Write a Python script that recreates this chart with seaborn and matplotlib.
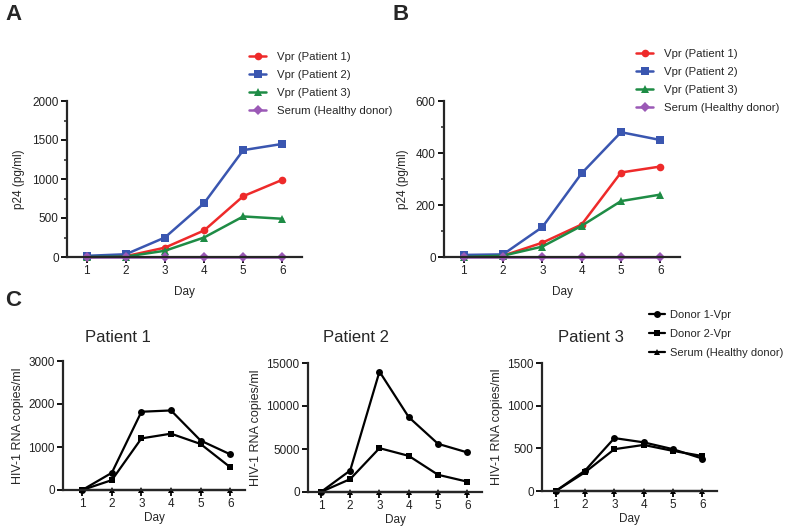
import numpy as np
import matplotlib
matplotlib.use("Agg")
import matplotlib.pyplot as plt
import seaborn as sns

days = [1, 2, 3, 4, 5, 6]

# Panel A: p24 (pg/ml)
a_patient1 = [0, 10, 120, 340, 780, 990]
a_patient2 = [15, 35, 250, 690, 1370, 1450]
a_patient3 = [0, 5, 80, 250, 520, 490]
a_serum = [0, 0, 0, 0, 0, 0]

# Panel B: p24 (pg/ml)
b_patient1 = [3, 5, 55, 125, 325, 348]
b_patient2 = [8, 10, 115, 322, 480, 450]
b_patient3 = [0, 5, 40, 120, 215, 240]
b_serum = [0, 0, 0, 0, 0, 0]

# Panel C: HIV-1 RNA copies/ml
c_donor1 = {
    "Patient 1": [0, 400, 1820, 1850, 1150, 830],
    "Patient 2": [0, 2500, 14000, 8700, 5600, 4600],
    "Patient 3": [0, 240, 620, 570, 490, 380],
}
c_donor2 = {
    "Patient 1": [0, 230, 1200, 1310, 1070, 530],
    "Patient 2": [0, 1500, 5100, 4200, 2000, 1200],
    "Patient 3": [0, 220, 490, 540, 470, 410],
}
c_serum = [0, 0, 0, 0, 0, 0]

ab_labels = ["Vpr (Patient 1)", "Vpr (Patient 2)", "Vpr (Patient 3)", "Serum (Healthy donor)"]
ab_colors = ["#EE2A2A", "#3A56B0", "#1E8C45", "#9B59B6"]
ab_markers = ["o", "s", "^", "D"]
c_labels = ["Donor 1-Vpr", "Donor 2-Vpr", "Serum (Healthy donor)"]

sns.set_style("ticks")
plt.rcParams["font.family"] = ["Liberation Sans", "DejaVu Sans"]
plt.rcParams["axes.linewidth"] = 1.6
plt.rcParams["xtick.major.width"] = 1.3
plt.rcParams["ytick.major.width"] = 1.3
plt.rcParams["ytick.minor.width"] = 1.1
plt.rcParams["xtick.major.size"] = 4
plt.rcParams["ytick.major.size"] = 4
plt.rcParams["ytick.minor.size"] = 2.5
plt.rcParams["xtick.labelsize"] = 8.5
plt.rcParams["ytick.labelsize"] = 8.5

W, H = 787, 526
fig = plt.figure(figsize=(W / 100, H / 100), dpi=100)


def px_axes(left, right, top, bottom):
    return fig.add_axes([left / W, 1 - bottom / H, (right - left) / W, (bottom - top) / H])


def style_axes(ax):
    sns.despine(ax=ax)
    ax.tick_params(axis="both", colors="black", pad=2)
    for lbl in ax.get_xticklabels() + ax.get_yticklabels():
        lbl.set_color("#222222")


def draw_ab(ax, series, ymax, ystep, minor, leg_x, leg_y):
    for vals, lab, col, mk in zip(series, ab_labels, ab_colors, ab_markers):
        ms = 5.5 if mk != "D" else 5
        sns.lineplot(x=days, y=vals, ax=ax, color=col, marker=mk, markersize=ms,
                     markeredgewidth=0, linewidth=1.8, label=lab, clip_on=False)
    ax.set_xlim(0.5, 6.5)
    ax.set_ylim(0, ymax)
    ax.set_xticks(days)
    ax.set_yticks(np.arange(0, ymax + 1, ystep))
    ax.set_yticks(np.arange(0, ymax + 1, minor), minor=True)
    ax.set_xlabel("Day", fontsize=8.5, labelpad=6)
    ax.set_ylabel("p24 (pg/ml)", fontsize=8.5, labelpad=5)
    style_axes(ax)
    ax.legend(loc="upper left", bbox_to_anchor=(leg_x / W, 1 - leg_y / H),
              bbox_transform=fig.transFigure, frameon=False, fontsize=8.2,
              handlelength=1.5, handletextpad=1.0, labelspacing=0.7,
              borderpad=0, borderaxespad=0)


axA = px_axes(67, 302, 101, 257)
draw_ab(axA, [a_patient1, a_patient2, a_patient3, a_serum], 2000, 500, 250, 249, 52)
axB = px_axes(444, 680, 101, 257)
draw_ab(axB, [b_patient1, b_patient2, b_patient3, b_serum], 600, 200, 100, 636, 49)

c_boxes = {
    "Patient 1": (63, 245, 361, 490, 0.35, 3000, 1000),
    "Patient 2": (308, 482, 363, 492, 0.56, 15000, 5000),
    "Patient 3": (542, 717, 363, 491, 0.53, 1500, 500),
}
title_x = {"Patient 1": 118, "Patient 2": 356, "Patient 3": 591}

for i, (name, (l, r, t, b, xlo, ymax, ystep)) in enumerate(c_boxes.items()):
    ax = px_axes(l, r, t, b)
    sns.lineplot(x=days, y=c_donor1[name], ax=ax, color="black", marker="o", markersize=5,
                 markeredgewidth=0, linewidth=1.6, label=c_labels[0], clip_on=False)
    sns.lineplot(x=days, y=c_donor2[name], ax=ax, color="black", marker="s", markersize=5,
                 markeredgewidth=0, linewidth=1.6, label=c_labels[1], clip_on=False)
    sns.lineplot(x=days, y=c_serum, ax=ax, color="black", marker="^", markersize=5,
                 markeredgewidth=0, linewidth=1.6, label=c_labels[2], clip_on=False)
    ax.set_xlim(xlo, 6.5)
    ax.set_ylim(0, ymax)
    ax.set_xticks(days)
    ax.set_yticks(np.arange(0, ymax + 1, ystep))
    ax.set_xlabel("Day", fontsize=8.5, labelpad=1)
    ax.set_ylabel("HIV-1 RNA copies/ml", fontsize=9, labelpad=3)
    style_axes(ax)
    fig.text(title_x[name] / W, 1 - 337 / H, name, fontsize=12, ha="center", va="center")
    if i == 2:
        ax.legend(loc="upper left", bbox_to_anchor=(649 / W, 1 - 310 / H),
                  bbox_transform=fig.transFigure, frameon=False, fontsize=8,
                  handlelength=1.4, handletextpad=0.5, labelspacing=0.8,
                  borderpad=0, borderaxespad=0)
    else:
        ax.get_legend().remove()

fig.text(5 / W, 1 - 4 / H, "A", fontsize=16, fontweight="heavy", va="top", ha="left")
fig.text(392 / W, 1 - 4 / H, "B", fontsize=16, fontweight="heavy", va="top", ha="left")
fig.text(5 / W, 1 - 290 / H, "C", fontsize=16, fontweight="heavy", va="top", ha="left")

fig.savefig("out.png", dpi=100)
